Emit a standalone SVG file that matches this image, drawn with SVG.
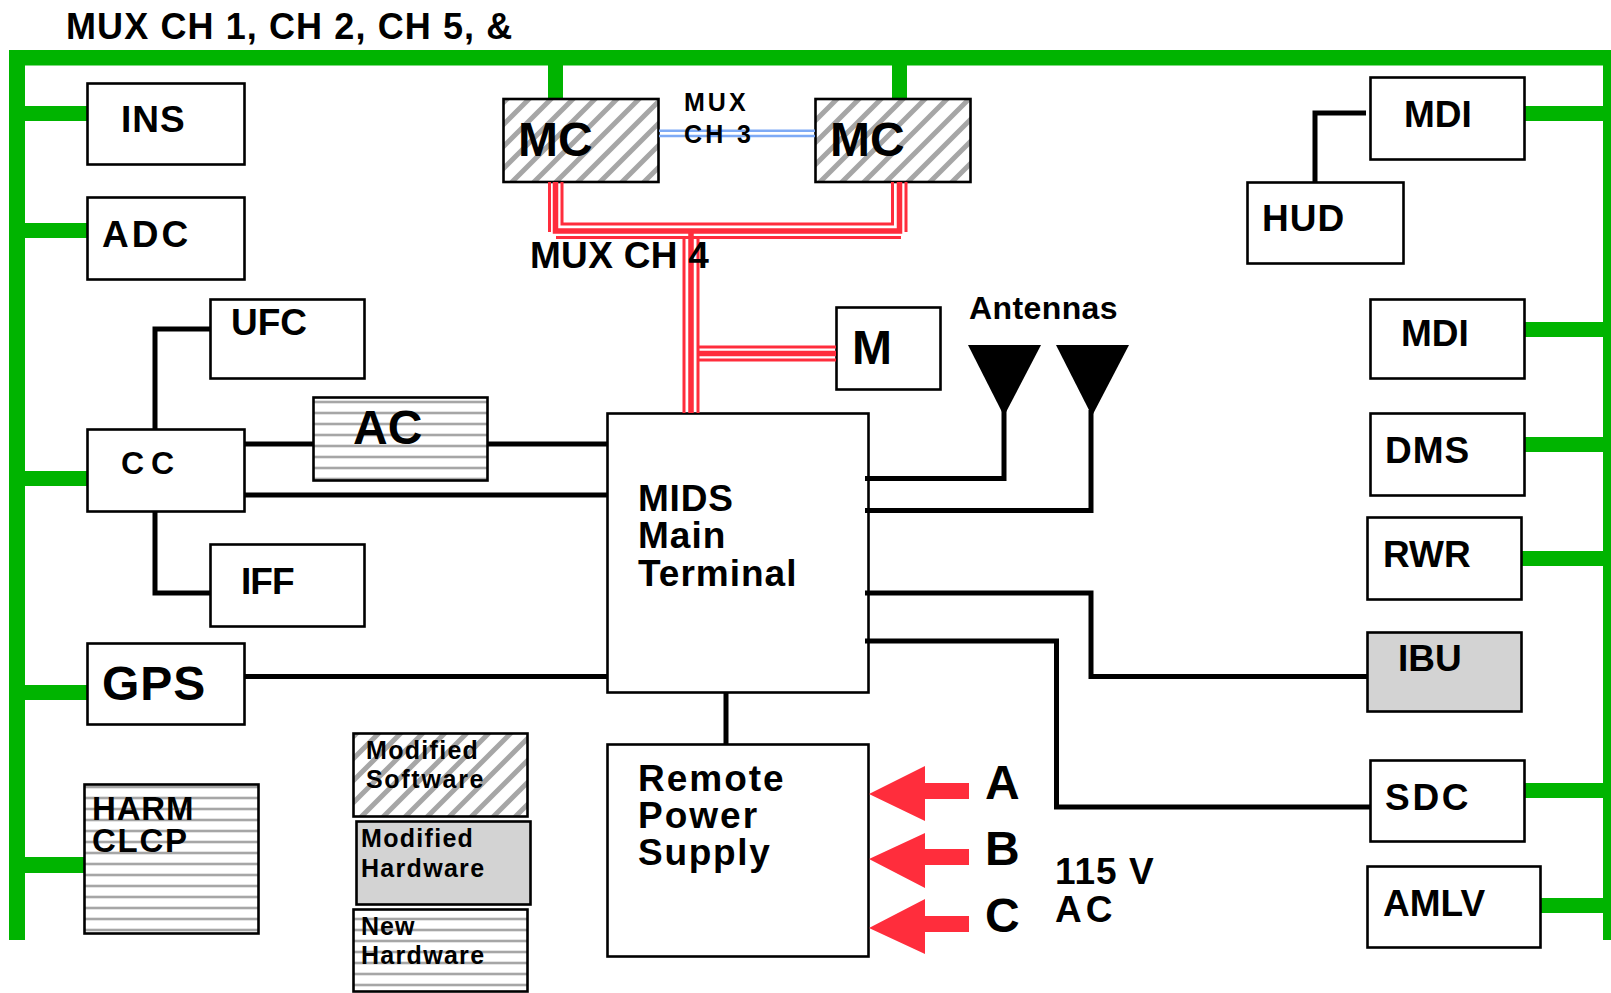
<svg xmlns="http://www.w3.org/2000/svg" width="1611" height="993" viewBox="0 0 1611 993">
<style>
text{font-family:"Liberation Sans",Arial,sans-serif;font-weight:700;fill:#000}
.b{stroke:#000;stroke-width:2.6;fill:#fff}
.h{stroke:#000;stroke-width:2.6;fill:url(#hor)}
.d{stroke:#000;stroke-width:2.6;fill:url(#diag)}
.s{stroke:#000;stroke-width:2.6;fill:#d3d3d3}
.l{stroke:#000;stroke-width:5;fill:none}
.g{fill:#00b400}
.r{fill:#ff2d3c}
.rl{stroke:#ff2d3c;fill:none}
.bl{stroke:#7eaaf5;stroke-width:2.5;fill:none}
</style>
<defs>
<pattern id="diag" width="22" height="22" patternUnits="userSpaceOnUse" patternTransform="translate(12 0)">
<rect width="22" height="22" fill="#fff"/>
<path d="M-5 5L5 -5M-5 27L27 -5M17 27L27 17" stroke="#a6a6a6" stroke-width="5"/>
</pattern>
<pattern id="hor" width="11" height="11" patternUnits="userSpaceOnUse">
<rect width="11" height="11" fill="#fff"/>
<rect y="4.7" width="11" height="2.6" fill="#a6a6a6"/>
</pattern>
</defs>
<g id="bus">
<rect class="g" x="9" y="50" width="1602" height="15.500"/>
<rect class="g" x="9" y="50" width="16" height="890"/>
<rect class="g" x="1603" y="50" width="8" height="890"/>
<rect class="g" x="548" y="50" width="15" height="48"/>
<rect class="g" x="892" y="50" width="15" height="48"/>
<rect class="g" x="20" y="106" width="67" height="15"/>
<rect class="g" x="20" y="223" width="67" height="15"/>
<rect class="g" x="20" y="471" width="67" height="15"/>
<rect class="g" x="20" y="685" width="67" height="15"/>
<rect class="g" x="20" y="857" width="64" height="16"/>
<rect class="g" x="1525" y="106" width="80" height="15"/>
<rect class="g" x="1525" y="322" width="80" height="15"/>
<rect class="g" x="1525" y="437" width="80" height="15"/>
<rect class="g" x="1522" y="551" width="83" height="15"/>
<rect class="g" x="1525" y="783" width="80" height="15"/>
<rect class="g" x="1541" y="898" width="64" height="15"/>
</g>
<g id="INS"><rect class="b" x="87.500" y="83.500" width="157" height="81"/><text x="121" y="132" font-size="37" letter-spacing="1">INS</text></g>
<g id="ADC"><rect class="b" x="87.500" y="197.500" width="157" height="82"/><text x="102" y="247" font-size="37" letter-spacing="3">ADC</text></g>
<g id="UFC"><rect class="b" x="210.500" y="299.500" width="154" height="79"/><text x="231" y="335" font-size="37">UFC</text></g>
<g id="CC"><rect class="b" x="87.500" y="429.500" width="157" height="82"/><text x="121" y="474" font-size="32" letter-spacing="7">CC</text></g>
<g id="AC"><rect class="h" x="313.500" y="397.500" width="174" height="83"/><text x="353" y="444" font-size="48">AC</text></g>
<g id="IFF"><rect class="b" x="210.500" y="544.500" width="154" height="82"/><text x="241" y="594" font-size="37" letter-spacing="-1">IFF</text></g>
<g id="GPS"><rect class="b" x="87.500" y="643.500" width="157" height="81"/><text x="102" y="700" font-size="48" letter-spacing="1">GPS</text></g>
<g id="HARM"><rect class="h" x="84.500" y="784.500" width="174" height="149"/><text x="92" y="820" font-size="33" letter-spacing="0.800">HARM</text><text x="92" y="852" font-size="33" letter-spacing="1.700">CLCP</text></g>
<g id="MC1"><rect class="d" x="503.500" y="99" width="155" height="83"/><text x="518" y="156" font-size="48">MC</text></g>
<g id="MC2"><rect class="d" x="815.500" y="99" width="155" height="83"/><text x="830" y="156" font-size="48">MC</text></g>
<g id="M"><rect class="b" x="836.500" y="307.500" width="104" height="82"/><text x="852" y="364" font-size="48">M</text></g>
<g id="MIDS"><rect class="b" x="607.500" y="413.500" width="261" height="279"/><text x="638" y="511" font-size="37" letter-spacing="0.800">MIDS</text><text x="638" y="548" font-size="37" letter-spacing="1">Main</text><text x="638" y="586" font-size="37" letter-spacing="1">Terminal</text></g>
<g id="RPS"><rect class="b" x="607.500" y="744.500" width="261" height="212"/><text x="638" y="791" font-size="37" letter-spacing="2">Remote</text><text x="638" y="828" font-size="37" letter-spacing="2">Power</text><text x="638" y="865" font-size="37" letter-spacing="1.700">Supply</text></g>
<g id="MDI1"><rect class="b" x="1370.500" y="77.500" width="154" height="82"/><text x="1404" y="127" font-size="37">MDI</text></g>
<g id="HUD"><rect class="b" x="1247.500" y="182.500" width="156" height="81"/><text x="1262" y="231" font-size="37" letter-spacing="1">HUD</text></g>
<g id="MDI2"><rect class="b" x="1370.500" y="299.500" width="154" height="79"/><text x="1401" y="346" font-size="37">MDI</text></g>
<g id="DMS"><rect class="b" x="1370.500" y="413.500" width="154" height="82"/><text x="1385" y="463" font-size="37" letter-spacing="1">DMS</text></g>
<g id="RWR"><rect class="b" x="1367.500" y="517.500" width="154" height="82"/><text x="1383" y="567" font-size="37">RWR</text></g>
<g id="IBU"><rect class="s" x="1367.500" y="632.500" width="154" height="79"/><text x="1398" y="671" font-size="37">IBU</text></g>
<g id="SDC"><rect class="b" x="1370.500" y="760.500" width="154" height="81"/><text x="1385" y="810" font-size="37" letter-spacing="2.700">SDC</text></g>
<g id="AMLV"><rect class="b" x="1367.500" y="866.500" width="173" height="81"/><text x="1383" y="916" font-size="37">AMLV</text></g>
<g id="legend-software"><rect class="d" x="353.500" y="733.500" width="174" height="83"/><text x="366" y="759" font-size="25" letter-spacing="1.300">Modified</text><text x="366" y="788" font-size="25" letter-spacing="1.700">Software</text></g>
<g id="legend-modified"><rect class="s" x="356.500" y="821.500" width="174" height="83"/><text x="361" y="847" font-size="25" letter-spacing="1.300">Modified</text><text x="361" y="877" font-size="25" letter-spacing="1.300">Hardware</text></g>
<g id="legend-new"><rect class="h" x="353.500" y="909.500" width="174" height="82"/><text x="361" y="935" font-size="25" letter-spacing="1">New</text><text x="361" y="964" font-size="25" letter-spacing="1.300">Hardware</text></g>
<g id="connectors">
<path class="l" d="M155 429V329H210M155 512V593H210M245 444H313M488 444H607M245 495H607M245 676.500H607"/>
<path class="l" d="M1366 113H1315V182M865 478.500H1004V410M865 510.500H1091V410M865 593H1091V676.500H1367M865 641H1056.500V807H1370M726 693V744"/>
<path class="rl" stroke-width="3" d="M549.500 182V232M562 182V224H892.500V182M906 182V232M684 237.500V413M698 237.500V413M698 347H836M698 360H836M556 237.500H901"/>
<path class="rl" stroke-width="5.500" d="M555.500 182V231H899.500V182M691 231V413M698 353.500H836"/>
<path class="bl" d="M659 130.700H815M659 136H815"/>
<polygon class="r" points="869,794 925,766 925,783 969,783 969,799 925,799 925,821"/>
<polygon class="r" points="869,859 925,833 925,849 969,849 969,865 925,865 925,888"/>
<polygon class="r" points="869,928 925,899 925,916 969,916 969,932 925,932 925,954"/>
<polygon points="968,345 1041,345 1004,416"/>
<polygon points="1056,345 1129,345 1092,416"/>
</g>
<g id="labels">
<text x="66" y="39" font-size="36" letter-spacing="1.100">MUX CH 1, CH 2, CH 5, &amp;</text>
<text x="684" y="111" font-size="25" letter-spacing="3">MUX</text>
<text x="684" y="143" font-size="25" letter-spacing="3.300">CH  3</text>
<text x="530" y="268" font-size="37" letter-spacing="0.300">MUX CH 4</text>
<text x="969" y="319" font-size="32" letter-spacing="0.400">Antennas</text>
<text x="985" y="799" font-size="48">A</text>
<text x="985" y="865" font-size="48">B</text>
<text x="985" y="932" font-size="48">C</text>
<text x="1055" y="884" font-size="37" letter-spacing="1">115 V</text>
<text x="1055" y="922" font-size="37" letter-spacing="4">AC</text>
</g>
</svg>
